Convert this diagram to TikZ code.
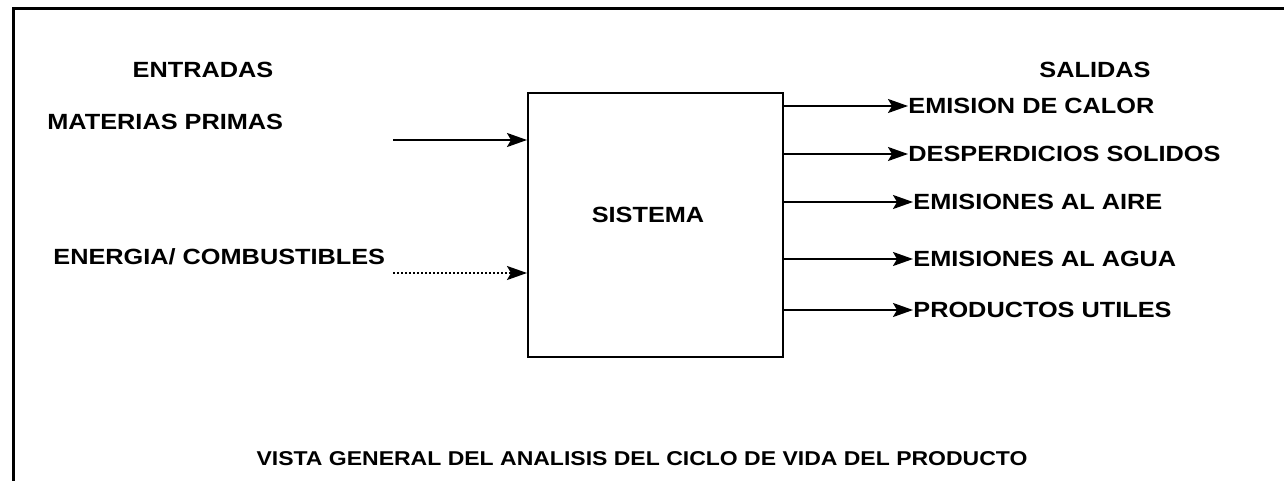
\documentclass[tikz,border=0pt]{standalone}
\usepackage{fontspec}
\setmainfont{Liberation Sans}[FakeStretch=1.15]
\usetikzlibrary{arrows.meta}
\usetikzlibrary{positioning}

\begin{document}
\begin{tikzpicture}[x=0.5pt,y=-0.5pt,
    txt/.style={font=\bfseries\fontsize{11}{13}\selectfont,inner sep=0pt},
    flecha/.style={-{Stealth[length=10pt,width=7pt,inset=2pt]},line width=1pt}]
      \useasboundingbox (0,0) rectangle (1284,481);
      \draw[line width=1.5pt] (13,481) -- (13,9) -- (1284,9);
      \node[draw,line width=1pt,minimum width=127.5pt,minimum height=132pt] (S) at (655.5,225) {};
      \node[txt] (T) at (648,215) {SISTEMA};
      \node[txt] (E) at (203,70) {ENTRADAS};
      \node[txt] (F) at (1095,70) {SALIDAS};
      % entradas
      \node[txt,anchor=west] (M) at (47,122) {MATERIAS PRIMAS};
      \node[txt,anchor=west] (N) at (53,257) {ENERGIA/ COMBUSTIBLES};
      \coordinate (Mi) at (393,140);
      \coordinate (Ni) at (393,273);
      \draw[flecha] (Mi) -- (S.west |- Mi);
      \draw[flecha,densely dotted] (Ni) -- (S.west |- Ni);
      % salidas
      \node[txt,anchor=west] (O1) at (908,106) {EMISION DE CALOR};
      \node[txt,anchor=west] (O2) at (908,154) {DESPERDICIOS SOLIDOS};
      \node[txt,anchor=west] (O3) at (913,202) {EMISIONES AL AIRE};
      \node[txt,anchor=west] (O4) at (913,259) {EMISIONES AL AGUA};
      \node[txt,anchor=west] (O5) at (913,310) {PRODUCTOS UTILES};
      \draw[flecha] (S.east |- O1.west) -- (O1.west);
      \draw[flecha] (S.east |- O2.west) -- (O2.west);
      \draw[flecha] (S.east |- O3.west) -- (O3.west);
      \draw[flecha] (S.east |- O4.west) -- (O4.west);
      \draw[flecha] (S.east |- O5.west) -- (O5.west);
      \node[txt,font=\bfseries\fontsize{10}{12}\selectfont] (V) at (642,459)
        {VISTA GENERAL DEL ANALISIS DEL CICLO DE VIDA DEL PRODUCTO};
    \end{tikzpicture}
\end{document}
